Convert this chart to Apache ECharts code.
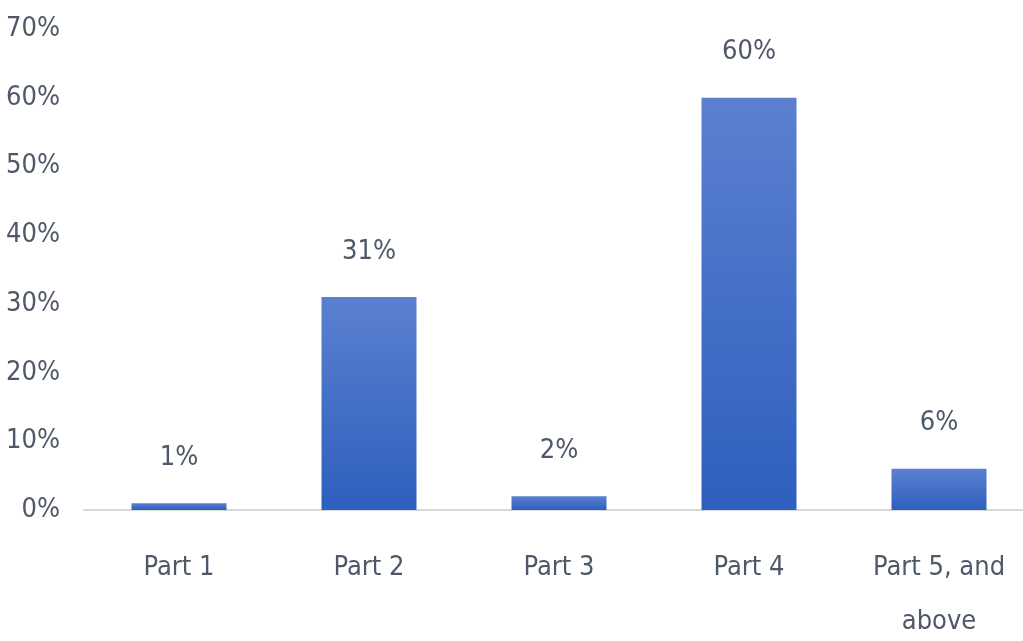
<!DOCTYPE html>
<html>
<head>
<meta charset="utf-8">
<script src="https://cdn.jsdelivr.net/npm/echarts@6/dist/echarts.min.js"></script>
<style>
  html, body { margin: 0; padding: 0; background: #ffffff; }
  #chart { width: 1023px; height: 641px; }
</style>
</head>
<body>
<div id="chart"></div>
<script>
// Share of respondents by part
const categories = ['Part 1', 'Part 2', 'Part 3', 'Part 4', 'Part 5, and\nabove'];
const shares = [1, 31, 2, 60, 6];
const yTicks = [0, 10, 20, 30, 40, 50, 60, 70];

const FONT = '"Liberation Sans Narrow", "DejaVu Sans Condensed", "Noto Sans", sans-serif';
const TEXT = '#4f5868';

const chart = echarts.init(document.getElementById('chart'), null, { renderer: 'canvas' });

chart.setOption({
  animation: false,
  backgroundColor: '#ffffff',
  grid: {
    left: 84, right: -11, top: 29, bottom: 131,
    containLabel: false, outerBoundsMode: 'none'
  },
  xAxis: {
    type: 'category',
    data: categories,
    axisLine: { show: true, lineStyle: { color: '#d9d9d9', width: 2 } },
    axisTick: { show: false },
    axisLabel: {
      color: TEXT, fontFamily: FONT, fontSize: 27, lineHeight: 54,
      margin: 31, interval: 0, verticalAlign: 'top'
    }
  },
  yAxis: {
    type: 'value',
    min: yTicks[0],
    max: yTicks[yTicks.length - 1],
    interval: 10,
    axisLine: { show: false },
    axisTick: { show: false },
    splitLine: { show: false },
    axisLabel: {
      color: TEXT, fontFamily: FONT, fontSize: 27, margin: 24,
      formatter: v => v + '%'
    }
  },
  series: [{
    type: 'bar',
    data: shares,
    barWidth: '50%',
    itemStyle: {
      color: new echarts.graphic.LinearGradient(0, 0, 0, 1, [
        { offset: 0, color: '#5b80d0' },
        { offset: 1, color: '#2e5fbe' }
      ])
    },
    label: {
      show: true, position: 'top', distance: 32,
      color: TEXT, fontFamily: FONT, fontSize: 27,
      formatter: p => p.value + '%'
    }
  }]
});
</script>
</body>
</html>
